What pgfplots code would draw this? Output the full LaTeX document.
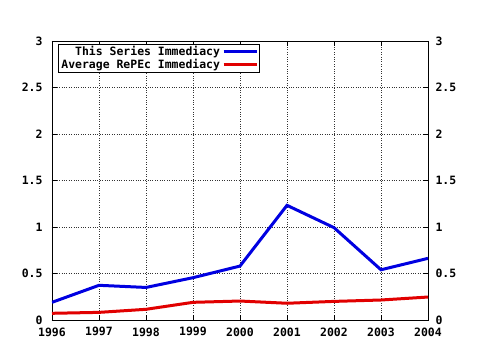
\documentclass[border=0pt]{standalone}
\usepackage{pgfplots}
\pgfplotsset{compat=1.18}
\usepackage{fontspec}
\setmonofont{DejaVu Sans Mono}
\newfontfamily\gfont{DejaVu Sans Mono Bold}
\definecolor{gblue}{RGB}{0,0,225}
\definecolor{gred}{RGB}{225,0,0}
\begin{document}
\begin{tikzpicture}
\begin{axis}[
  name=ax,
  scale only axis,
  width=376bp, height=279bp,
  xmin=1996, xmax=2004, ymin=0, ymax=3,
  xtick={1996,...,2004},
  ytick={0,0.5,1,1.5,2,2.5,3},
  yticklabels={0,0.5,1,1.5,2,2.5,3},
  xticklabels={1996,1997,1998,1999,2000,2001,2002,2003,2004},
  minor x tick num=3,
  tick align=inside,
  major tick length=5bp,
  minor tick length=3bp,
  tick style={black, line width=0.8pt},
  axis line style={black, line width=0.9pt},
  grid=major,
  grid style={black!80, dotted, line width=0.6pt},
  ticklabel style={font=\gfont\fontsize{11.5}{12}\selectfont},
  yticklabel style={xshift=-6bp},
  xticklabel style={yshift=-4bp},
  extra y ticks={0,0.5,1,1.5,2,2.5,3},
  extra y tick labels={0,0.5,1,1.5,2,2.5,3},
  extra y tick style={yticklabel pos=right, yticklabel style={anchor=west, xshift=10bp}, grid=none},
  legend plot pos=right,
  legend cell align=right,
  legend style={at={(0,1)}, anchor=north west, xshift=6bp, yshift=-3bp,
    font=\gfont\fontsize{11.5}{12}\selectfont, draw=black, line width=0.8pt,
    inner xsep=1bp, inner ysep=0bp, row sep=-2bp,
    /tikz/every even column/.append style={column sep=2bp}},
  legend image code/.code={\draw[#1, line width=3bp] (0bp,0bp) -- (33bp,0bp);},
]
\addplot[gblue, line width=3bp] coordinates {
(1996,0.19) (1997,0.373) (1998,0.35) (1999,0.455) (2000,0.58)
(2001,1.233) (2002,0.993) (2003,0.54) (2004,0.663)};
\addlegendentry{This Series Immediacy}
\addplot[gred, line width=3bp] coordinates {
(1996,0.072) (1997,0.082) (1998,0.115) (1999,0.19) (2000,0.204)
(2001,0.18) (2002,0.2) (2003,0.215) (2004,0.247)};
\addlegendentry{Average RePEc Immediacy}
\end{axis}
\path ([xshift=-52bp,yshift=-30bp]ax.south west) rectangle ([xshift=52bp,yshift=41bp]ax.north east);
\end{tikzpicture}
\end{document}
